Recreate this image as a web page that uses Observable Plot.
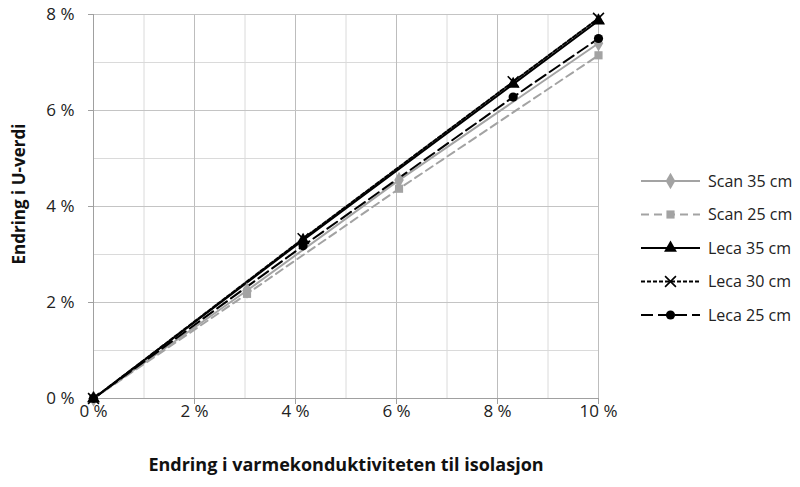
<!DOCTYPE html>
<html>
<head>
<meta charset="utf-8">
<script src="https://cdn.jsdelivr.net/npm/d3@7"></script>
<script src="https://cdn.jsdelivr.net/npm/@observablehq/plot@0.6"></script>
<style>
  body { margin: 0; background: #fff; }
  #chart { position: relative; width: 800px; height: 487px; }
  #legend { position: absolute; left: 630px; top: 0; }
</style>
</head>
<body>
<div id="chart"></div>
<script>
// Change in thermal conductivity of the insulation (%) at each computed point
const xScan = [0, 3.04, 6.05, 10];
const xLeca = [0, 4.15, 8.31, 10];

// Resulting change in U-value (%)
const scan35 = [0, 2.25, 4.55, 7.40];
const scan25 = [0, 2.18, 4.37, 7.15];
const leca35 = [0, 3.30, 6.55, 7.87];
const leca30 = [0, 3.33, 6.60, 7.92];
const leca25 = [0, 3.18, 6.28, 7.50];

const seriesNames = ["Scan 35 cm", "Scan 25 cm", "Leca 35 cm", "Leca 30 cm", "Leca 25 cm"];
const xTicks = [0, 2, 4, 6, 8, 10];
const yTicks = [0, 2, 4, 6, 8];
const xMinor = [1, 3, 5, 7, 9];
const yMinor = [1, 3, 5, 7];

const FONT = "'Open Sans', sans-serif";
const fmt = d => `${d} %`;

const series = [
  {name: seriesNames[0], xs: xScan, ys: scan35, color: "#a3a3a3", dash: null,    symbol: "diamond",  r: 5,   kind: "fill"},
  {name: seriesNames[1], xs: xScan, ys: scan25, color: "#a3a3a3", dash: "8,5",   symbol: "square",   r: 4.6, kind: "fill"},
  {name: seriesNames[2], xs: xLeca, ys: leca35, color: "#000",    dash: null,    symbol: "triangle", r: 4.8, kind: "fill"},
  {name: seriesNames[3], xs: xLeca, ys: leca30, color: "#000",    dash: "4,2",   symbol: "times",    r: 5,   kind: "stroke"},
  {name: seriesNames[4], xs: xLeca, ys: leca25, color: "#000",    dash: "12,5",  symbol: "circle",   r: 4.6, kind: "fill"}
];

const rows = series.map(s => s.xs.map((x, i) => ({series: s.name, x, y: s.ys[i]})));

const marks = [
  Plot.gridX(xMinor, {stroke: "#dadada", strokeOpacity: 1}),
  Plot.gridY(yMinor, {stroke: "#dadada", strokeOpacity: 1}),
  Plot.gridX(xTicks, {stroke: "#bdbdbd", strokeOpacity: 1}),
  Plot.gridY(yTicks, {stroke: "#c4c4c4", strokeOpacity: 1}),
  Plot.ruleX([0], {stroke: "#a0a0a0"}),
  Plot.ruleY([0], {stroke: "#a0a0a0"}),
  Plot.axisX(xTicks, {tickFormat: fmt, tickSize: 6, tickPadding: 0, stroke: "#a0a0a0", fill: "#222", label: null, fontSize: 17}),
  Plot.axisY(yTicks, {tickFormat: fmt, tickSize: 5, tickPadding: 14, stroke: "#a0a0a0", fill: "#222", label: null, fontSize: 17}),
  Plot.text(["Endring i U-verdi"], {frameAnchor: "left", dx: -74, dy: 58, rotate: -90, fontWeight: "bold", fontSize: 17, fill: "#111", letterSpacing: "0.3px"}),
  Plot.text(["Endring i varmekonduktiviteten til isolasjon"], {frameAnchor: "bottom", dy: 72, fontWeight: "bold", fontSize: 18, fill: "#111", letterSpacing: "0.6px"})
];

series.forEach((s, k) => {
  marks.push(Plot.line(rows[k], {x: "x", y: "y", stroke: s.color, strokeWidth: 2, strokeDasharray: s.dash}));
});
series.forEach((s, k) => {
  const opts = {x: "x", y: "y", symbol: s.symbol, r: s.r};
  if (s.kind === "fill") { opts.fill = s.color; opts.stroke = "none"; }
  else { opts.fill = "none"; opts.stroke = s.color; opts.strokeWidth = 1.6; }
  marks.push(Plot.dot(rows[k], opts));
});

const chart = Plot.plot({
  width: 800,
  height: 487,
  marginLeft: 93,
  marginRight: 202,
  marginTop: 14,
  marginBottom: 89,
  style: {fontFamily: FONT, fontSize: "17px", color: "#222", background: "#fff"},
  x: {domain: [0, 10]},
  y: {domain: [0, 8]},
  marks
});
document.getElementById("chart").appendChild(chart);

// Legend, drawn beside the plot with the same colours, dashes and symbols
const symbolMap = {diamond: d3.symbolDiamond, square: d3.symbolSquare, triangle: d3.symbolTriangle, times: d3.symbolTimes, circle: d3.symbolCircle};
const legend = d3.select("#chart").append("svg")
  .attr("id", "legend")
  .attr("width", 170)
  .attr("height", 487)
  .style("font-family", FONT)
  .style("font-size", "16px");

const rowY = i => 181 + i * 33.5;
const item = legend.selectAll("g").data(series).join("g")
  .attr("transform", (d, i) => `translate(0,${rowY(i)})`);
item.append("line")
  .attr("x1", 11).attr("x2", 70).attr("y1", 0).attr("y2", 0)
  .attr("stroke", d => d.color).attr("stroke-width", 2)
  .attr("stroke-dasharray", d => d.dash);
item.append("path")
  .attr("transform", "translate(40.5,0)")
  .attr("d", d => d3.symbol(symbolMap[d.symbol], Math.PI * d.r * d.r)())
  .attr("fill", d => d.kind === "fill" ? d.color : "none")
  .attr("stroke", d => d.kind === "fill" ? "none" : d.color)
  .attr("stroke-width", 1.6);
item.append("text")
  .attr("x", 78).attr("y", 0).attr("dy", "0.35em")
  .attr("fill", "#222")
  .text(d => d.name);
</script>
</body>
</html>
